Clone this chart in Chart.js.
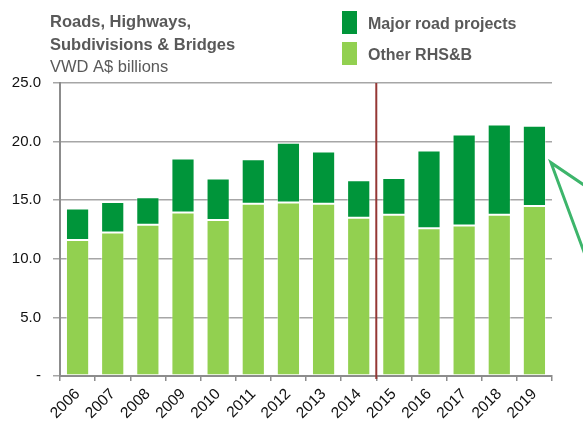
<!DOCTYPE html>
<html>
<head>
<meta charset="utf-8">
<script src="https://cdn.jsdelivr.net/npm/chart.js@4.4.1/dist/chart.umd.min.js"></script>
<style>
  html, body { margin: 0; padding: 0; background: #fff; }
  #wrap { position: relative; width: 583px; height: 421px; }
</style>
</head>
<body>
<div id="wrap"><canvas id="rhsbChart" width="583" height="421"></canvas></div>
<script>
// data
const years = ['2006', '2007', '2008', '2009', '2010', '2011', '2012', '2013', '2014', '2015', '2016', '2017', '2018', '2019'];
const otherRHSB = [11.6, 12.25, 12.9, 13.95, 13.3, 14.7, 14.8, 14.7, 13.5, 13.75, 12.6, 12.85, 13.75, 14.5];
const majorRoads = [2.7, 2.6, 2.35, 4.6, 3.55, 3.8, 5.1, 4.45, 3.2, 3.15, 6.65, 7.75, 7.7, 6.85];
const yTicks = [0, 5, 10, 15, 20, 25];

const titleLines = ['Roads, Highways,', 'Subdivisions & Bridges'];
const subTitle = 'VWD A$ billions';

const FONT = '"Liberation Sans", Arial, sans-serif';
const DARK = '#00953a';
const LIGHT = '#92d050';

const overlay = {
    id: 'overlay',
    afterDraw(chart) {
        const c = chart.ctx;
        const x = chart.scales.x, y = chart.scales.y;
        const area = chart.chartArea;

        // forecast divider between 2014 and 2015
        const xd = (x.getPixelForValue(8) + x.getPixelForValue(9)) / 2;
        c.save();
        c.strokeStyle = '#953735';
        c.lineWidth = 2;
        c.beginPath();
        c.moveTo(xd, area.top);
        c.lineTo(xd, area.bottom + 3);
        c.stroke();

        // arrow pointing to 2019
        const tx = area.right - 1, ty = y.getPixelForValue(18.2);
        c.strokeStyle = '#3db56b';
        c.lineWidth = 3;
        c.lineJoin = 'miter';
        c.beginPath();
        c.moveTo(chart.width + 2, ty + 23);
        c.lineTo(tx, ty);
        c.lineTo(chart.width + 2, ty + 92);
        c.stroke();

        // titles
        c.fillStyle = '#595959';
        c.textAlign = 'left';
        c.textBaseline = 'alphabetic';
        c.font = 'bold 16.5px ' + FONT;
        c.fillText(titleLines[0], 50, 27);
        c.fillText(titleLines[1], 50, 50);
        c.font = '16.5px ' + FONT;
        c.fillText(subTitle, 50, 72);

        // legend, top series first
        const order = [1, 0];
        order.forEach((di, i) => {
            const ds = chart.data.datasets[di];
            const top = 11 + i * 31;
            c.fillStyle = ds.backgroundColor;
            c.fillRect(342, top, 15, 23);
            c.fillStyle = '#595959';
            c.font = 'bold 16px ' + FONT;
            c.fillText(ds.label, 368, top + 18);
        });
        c.restore();
    }
};

new Chart(document.getElementById('rhsbChart'), {
    type: 'bar',
    data: {
        labels: years,
        datasets: [
            {
                label: 'Other RHS&B',
                data: otherRHSB,
                backgroundColor: LIGHT,
                borderColor: 'rgba(255,255,255,0.4)',
                borderWidth: 1,
                borderSkipped: false,
                barPercentage: 0.66,
                categoryPercentage: 1.0
            },
            {
                label: 'Major road projects',
                data: majorRoads,
                backgroundColor: DARK,
                borderColor: 'rgba(255,255,255,0.4)',
                borderWidth: 1,
                borderSkipped: false,
                barPercentage: 0.66,
                categoryPercentage: 1.0
            }
        ]
    },
    options: {
        responsive: false,
        animation: false,
        layout: { padding: { top: 83, right: 31, left: 0, bottom: 0 } },
        plugins: {
            legend: { display: false },
            tooltip: { enabled: false }
        },
        scales: {
            x: {
                stacked: true,
                grid: { display: true, drawOnChartArea: false, color: '#8c8c8c', lineWidth: 1.5, tickLength: 5 },
                border: { display: true, color: '#8c8c8c', width: 2 },
                ticks: {
                    color: '#111',
                    font: { size: 15.5, family: FONT },
                    minRotation: 45,
                    maxRotation: 45,
                    autoSkip: false,
                    padding: 4
                },
                afterFit: s => { s.height = 45; }
            },
            y: {
                stacked: true,
                min: 0,
                max: 25,
                afterBuildTicks: s => { s.ticks = yTicks.map(v => ({ value: v })); },
                grid: { color: '#a6a6a6', lineWidth: 1.5, tickLength: 7 },
                border: { display: true, color: '#8c8c8c', width: 2 },
                ticks: {
                    color: '#111',
                    font: { size: 15, family: FONT },
                    padding: 12,
                    callback: v => v === 0 ? '-' : v.toFixed(1)
                },
                afterFit: s => { s.width = 60; }
            }
        }
    },
    plugins: [overlay]
});
</script>
</body>
</html>
